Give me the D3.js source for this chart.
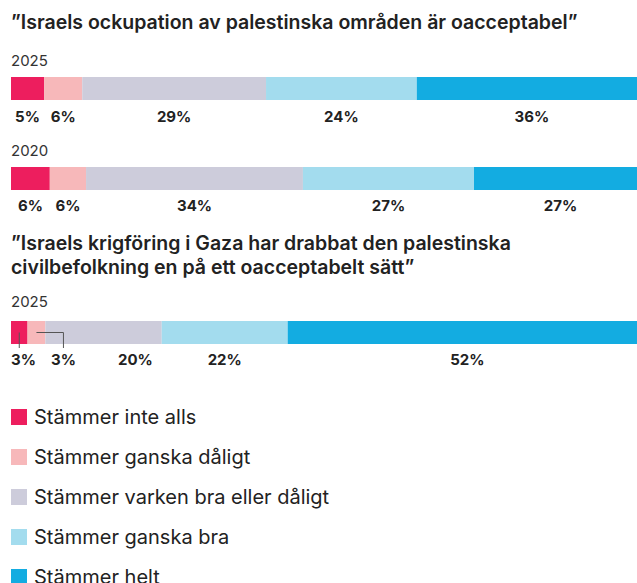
<!DOCTYPE html>
<html><head><meta charset="utf-8">
<script src="https://cdn.jsdelivr.net/npm/d3@7"></script>
<style>
html,body{margin:0;padding:0;background:#fff;}
svg{display:block;font-family:Inter,"Noto Sans",sans-serif;}
</style></head>
<body>
<script>
// ---- data ----
const categories = ["Stämmer inte alls","Stämmer ganska dåligt","Stämmer varken bra eller dåligt","Stämmer ganska bra","Stämmer helt"];
const colors = ["#ED1E5E","#F7B8BA","#CDCCDB","#A3DCEE","#13ACE1"];
const title1 = "”Israels ockupation av palestinska områden är oacceptabel”";
const title2 = ["”Israels krigföring i Gaza har drabbat den palestinska","civilbefolkning en på ett oacceptabelt sätt”"];
const q1y2025 = [5.2, 6.0, 28.9, 23.7, 36.2];
const q1y2025Labels = ["5%","6%","29%","24%","36%"];
const q1y2020 = [6.1, 5.7, 34.1, 26.9, 27.2];
const q1y2020Labels = ["6%","6%","34%","27%","27%"];
const q2y2025 = [2.6, 2.8, 18.3, 19.8, 56.5];
const q2y2025Labels = ["3%","3%","20%","22%","52%"];

const W = 637, H = 583;
const svg = d3.select("body").append("svg").attr("width", W).attr("height", H);
const x = d3.scaleLinear().domain([0, 100]).range([11, 647]);
const barH = 23;
const ink = "#222";

function title(lines, y0){
  const t = svg.append("text").attr("x", 11).attr("fill", ink)
    .attr("font-size", 19.5).attr("font-weight", 600);
  lines.forEach((l,i)=> t.append("tspan").attr("x", 11).attr("y", y0 + i*23.5).text(l));
}

function row(year, values, labels, yearY, barY, labelY){
  svg.append("text").attr("x", 11).attr("y", yearY).attr("fill", "#333")
    .attr("font-size", 15).text(year);
  const stack = [];
  let acc = 0;
  values.forEach((v,i)=>{ stack.push({i, v, x0: acc, x1: acc + v, label: labels[i]}); acc += v; });
  svg.append("g").selectAll("rect").data(stack).join("rect")
    .attr("x", d => x(d.x0)).attr("y", barY)
    .attr("width", d => x(d.x1) - x(d.x0)).attr("height", barH)
    .attr("fill", d => colors[d.i]);
  // labels
  const g = svg.append("g").attr("font-size", 15).attr("font-weight", 700).attr("fill", ink);
  let smallCount = 0, lastLabelX = -Infinity, lastWasLeader = false;
  stack.forEach(d => {
    const cx = (x(d.x0) + x(d.x1)) / 2;
    const wpx = x(d.x1) - x(d.x0);
    const mid = barY + barH / 2;
    if (wpx < 20) {
      // leader line for small segment
      if (smallCount === 0) {
        svg.append("path").attr("d", `M${cx},${mid}V${barY + barH + 4}`)
          .attr("stroke", "#555").attr("stroke-width", 1).attr("fill", "none");
        g.append("text").attr("x", x(d.x0)).attr("y", labelY).attr("text-anchor", "start").text(d.label);
        lastLabelX = x(d.x0) + 11;
      } else {
        const ex = cx + 27;
        svg.append("path").attr("d", `M${cx},${mid}H${ex}V${barY + barH + 4}`)
          .attr("stroke", "#555").attr("stroke-width", 1).attr("fill", "none");
        g.append("text").attr("x", ex).attr("y", labelY).attr("text-anchor", "middle").text(d.label);
        lastLabelX = ex;
      }
      smallCount++;
      lastWasLeader = true;
    } else {
      let lx = cx;
      if (lastWasLeader && smallCount > 1) lx = Math.max(cx, lastLabelX + 72);
      g.append("text").attr("x", lx).attr("y", labelY).attr("text-anchor", "middle").text(d.label);
      lastLabelX = lx;
      lastWasLeader = false;
    }
  });
}

title([title1], 29);
row("2025", q1y2025, q1y2025Labels, 66, 77, 122);
row("2020", q1y2020, q1y2020Labels, 156, 167, 211);
title(title2, 250);
row("2025", q2y2025, q2y2025Labels, 307, 321, 365);

// legend
const lg = svg.append("g").selectAll("g").data(categories).join("g")
  .attr("transform", (d,i) => `translate(11,${409 + i*40})`);
lg.append("rect").attr("width", 16).attr("height", 16).attr("fill", (d,i) => colors[i]);
lg.append("text").attr("x", 23).attr("y", 15).attr("font-size", 20).attr("fill", ink).text(d => d);
</script>
</body></html>
